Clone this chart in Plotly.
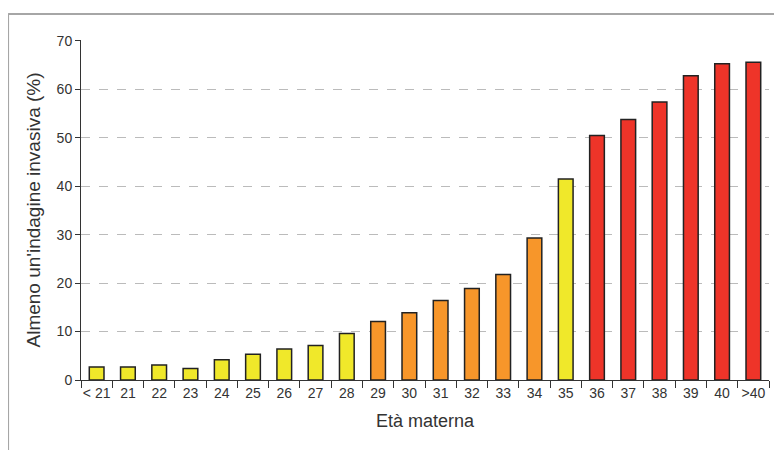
import plotly.graph_objects as go

categories = ["< 21", "21", "22", "23", "24", "25", "26", "27", "28", "29", "30",
              "31", "32", "33", "34", "35", "36", "37", "38", "39", "40", ">40"]
values = [2.7, 2.7, 3.1, 2.4, 4.2, 5.3, 6.4, 7.1, 9.6, 12.1, 13.9,
          16.4, 18.9, 21.8, 29.3, 41.5, 50.5, 53.8, 57.4, 62.8, 65.3, 65.6]
groups = ["y"] * 9 + ["o"] * 6 + ["y"] + ["r"] * 6
palette = {"y": "#F0E82A", "o": "#F7962A", "r": "#EE3429"}
colors = [palette[g] for g in groups]
y_ticks = [0, 10, 20, 30, 40, 50, 60, 70]

fig = go.Figure(go.Bar(
    x=categories, y=values, width=0.47,
    marker=dict(color=colors, line=dict(color="#222222", width=1.5)),
))

font = "Arial, Liberation Sans, sans-serif"
fig.update_layout(
    width=774, height=442,
    margin=dict(l=73, r=13, t=32, b=70),
    paper_bgcolor="white", plot_bgcolor="white",
    showlegend=False,
    font=dict(family=font, size=14, color="#333333"),
    xaxis=dict(
        type="category", tickson="boundaries", ticks="outside", ticklen=7,
        tickangle=0, automargin=False,
        tickcolor="#333333", showline=True, linecolor="#333333", linewidth=1,
        showgrid=False, tickfont=dict(size=14, color="#333333"),
        title=dict(text="Età materna", font=dict(size=18, color="#333333"), standoff=14),
    ),
    yaxis=dict(
        range=[0, 70.2], tickvals=y_ticks, ticks="outside", ticklen=5,
        automargin=False,
        tickcolor="#333333", showline=True, linecolor="#333333", linewidth=1,
        showgrid=True, gridcolor="#BBBBBB", griddash="dash", gridwidth=1,
        zeroline=False, tickfont=dict(size=14, color="#333333"),
        title=dict(text="Almeno un'indagine invasiva (%)", font=dict(size=19, color="#333333"), standoff=10),
    ),
    shapes=[
        dict(type="line", xref="paper", yref="paper", x0=-0.106, x1=-0.106, y0=1.0765, y1=-0.3,
             line=dict(color="#A6A6A6", width=2)),
        dict(type="line", xref="paper", yref="paper", x0=-0.106, x1=1.05, y0=1.0765, y1=1.0765,
             line=dict(color="#A6A6A6", width=2)),
    ],
)

fig.write_html("out.html")
